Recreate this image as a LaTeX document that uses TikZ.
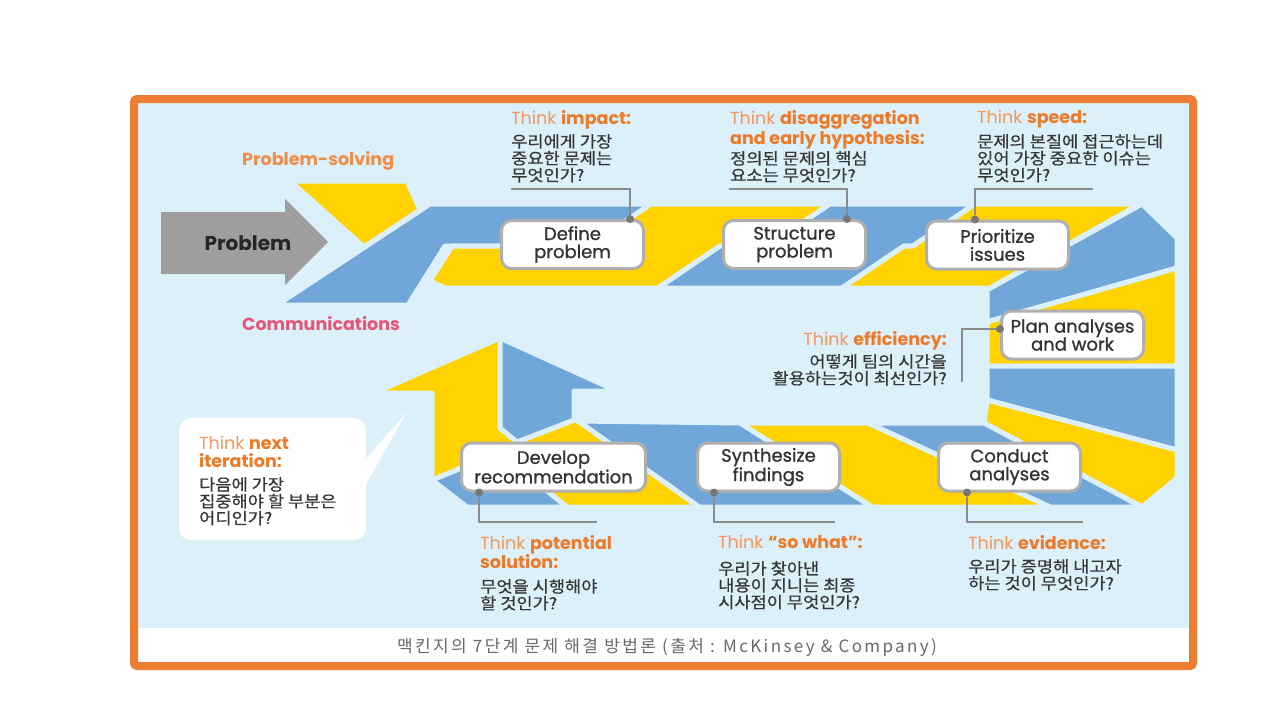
\documentclass[tikz,border=0pt]{standalone}
\usepackage{fontspec}
\setmainfont{Poppins}
\newfontfamily\krfont{Noto Sans CJK KR}[FakeStretch=1.1, FakeBold=0.6]
\newfontfamily\capfont{Noto Sans CJK KR}[LetterSpace=14]
\newfontfamily\boxfont{Poppins}[FakeBold=1]
\usetikzlibrary{positioning}

\definecolor{bgsky}{RGB}{220,240,250}
\definecolor{frameorange}{RGB}{237,125,49}
\definecolor{ribyellow}{RGB}{255,210,0}
\definecolor{ribblue}{RGB}{112,166,216}
\definecolor{arrowgray}{RGB}{158,158,158}
\definecolor{thinklight}{RGB}{246,150,90}
\definecolor{thinkbold}{RGB}{238,122,40}
\definecolor{solvecol}{RGB}{240,140,70}
\definecolor{commcol}{RGB}{232,84,120}
\definecolor{krtext}{RGB}{55,55,55}
\definecolor{leadgray}{RGB}{140,140,140}
\definecolor{boxgray}{RGB}{175,175,175}
\definecolor{captiongray}{RGB}{105,105,105}

\newcommand{\thinkhl}[1]{\textcolor{thinkbold}{\bfseries #1}}

\tikzset{
  ribbon/.style={draw=bgsky, line width=5pt, line join=round},
  stepbox/.style={draw=boxgray, line width=3pt, fill=white, rounded corners=10pt,
    minimum width=142pt, minimum height=48pt, inner sep=0pt, align=center,
    font=\boxfont\fontsize{18}{18}\selectfont, text=black!80},
  thinktitle/.style={anchor=north west, inner sep=0pt, align=left,
    font=\fontsize{17.5}{18}\selectfont, text=thinklight},
  krnote/.style={anchor=north west, inner sep=0pt, align=left,
    font=\krfont\fontsize{16}{16.8}\selectfont, text=krtext},
  flowlabel/.style={anchor=north west, inner sep=0pt,
    font=\bfseries\fontsize{17.5}{20}\selectfont},
  leader/.style={draw=leadgray, line width=1.2pt},
  leaddot/.style={circle, fill=leadgray!85!black, inner sep=0pt, minimum size=8pt}
}

\begin{document}
\begin{tikzpicture}[x=1pt, y=-1pt]
  \useasboundingbox (0,0) rectangle (1280,720);
  \fill[white] (0,0) rectangle (1280,720);

  % frame
  \fill[bgsky] (134,99) rectangle (1193,628);
  \fill[white] (134,628) rectangle (1193,666);
  \draw[frameorange, line width=8pt, rounded corners=3pt] (134,99) rectangle (1193,666);

  % problem arrow
  \fill[arrowgray] (161,212) -- (285,212) -- (285,199) -- (328,242) -- (285,285) -- (285,274) -- (161,274) -- cycle;
  \node[font=\bfseries\fontsize{20}{22}\selectfont, text=black!85] (problem) at (248,243) {Problem};

  % top band
  \filldraw[ribbon, fill=ribyellow] (290,181) -- (407,181) -- (420,210) -- (364,247) -- cycle;
  \filldraw[ribbon, fill=ribblue] (277,305) -- (430,204) -- (651,204) -- (589,246) -- (445,246) -- (408,305) -- cycle;
  \filldraw[ribbon, fill=ribyellow] (430,281) -- (452,246) -- (589,246) -- (651,204) -- (830,204) -- (768,246) -- (720,246) -- (658,288) -- (445,288) -- cycle;
  \filldraw[ribbon, fill=ribblue] (658,288) -- (720,246) -- (768,246) -- (830,204) -- (975,204) -- (913,246) -- (904,246) -- (842,288) -- cycle;
  \filldraw[ribbon, fill=ribyellow] (842,288) -- (904,246) -- (913,246) -- (975,204) -- (1140,204) -- (990,288) -- cycle;

  % right column
  \filldraw[ribbon, fill=ribblue] (987,290) -- (1142,204) -- (1177,238) -- (1177,268) -- (987,322) -- cycle;
  \filldraw[ribbon, fill=ribyellow] (987,322) -- (1177,268) -- (1177,366) -- (987,366) -- cycle;
  \filldraw[ribbon, fill=ribblue] (987,366) -- (1177,366) -- (1177,450) -- (987,400) -- cycle;
  \filldraw[ribbon, fill=ribyellow] (987,400) -- (1177,450) -- (1177,478) -- (1142,507) -- (984,423) -- cycle;

  % bottom band and the two up arrows
  \filldraw[ribbon, fill=ribblue] (868,423) -- (984,423) -- (1142,507) -- (1050,507) -- cycle;
  \filldraw[ribbon, fill=ribyellow] (740,423) -- (868,423) -- (1050,507) -- (872,507) -- cycle;
  \filldraw[ribbon, fill=ribblue] (578,421) -- (740,423) -- (872,507) -- (699,507) -- cycle;
  \filldraw[ribbon, fill=ribblue] (432,480) -- (500,452) -- (567,507) -- (467,507) -- cycle;
  \filldraw[ribbon, fill=ribyellow] (500,338) -- (374,393) -- (432,393) -- (432,480) -- (500,452) -- (567,507) -- (699,507) -- (578,421) -- (574,420) -- (517,442) -- (500,428) -- cycle;
  \filldraw[ribbon, fill=ribblue] (500,338) -- (617,391) -- (574,391) -- (574,420) -- (517,442) -- (500,428) -- cycle;

  % flow labels
  \node[flowlabel, text=solvecol] (solving) at (242,151) {Problem-solving};
  \node[flowlabel, text=commcol] (comm) at (242,316) {Communications};

  % leader ends
  \coordinate (impactLead) at (511,189);
  \coordinate (disaggLead) at (729,189);
  \coordinate (speedLead) at (1093,189);
  \coordinate (effLead) at (962,382);
  \coordinate (potLead) at (597,522);
  \coordinate (soLead) at (835,522);
  \coordinate (evLead) at (1083,522);

  % steps
  \node[stepbox] (define) at (572.5,244.5) {Define\\problem};
  \node[stepbox] (structure) at (794.5,244.5) {Structure\\problem};
  \node[stepbox] (prioritize) at (997.5,245) {Prioritize\\issues};
  \node[stepbox] (plan) at (1072.5,335) {Plan analyses\\and work};
  \node[stepbox] (conduct) at (1009.5,467) {Conduct\\analyses};
  \node[stepbox] (synth) at (768.5,467) {Synthesize\\findings};
  \node[stepbox, minimum width=184pt] (develop) at (553.5,467) {Develop\\recommendation};

  \node[leaddot] (dDefine) at ([xshift=-15pt]define.north east) {};
  \node[leaddot] (dStructure) at ([xshift=-20pt]structure.north east) {};
  \node[leaddot] (dPrioritize) at ([xshift=50pt]prioritize.north west) {};
  \node[leaddot] (dPlan) at ([yshift=6pt]plan.west) {};
  \node[leaddot] (dConduct) at ([xshift=30pt]conduct.south west) {};
  \node[leaddot] (dSynth) at ([xshift=18pt]synth.south west) {};
  \node[leaddot] (dDevelop) at ([xshift=19pt]develop.south west) {};

  \draw[leader] (impactLead) -| (dDefine);
  \draw[leader] (disaggLead) -| (dStructure);
  \draw[leader] (speedLead) -| (dPrioritize);
  \draw[leader] (effLead) |- (dPlan);
  \draw[leader] (dConduct) |- (evLead);
  \draw[leader] (dSynth) |- (soLead);
  \draw[leader] (dDevelop) |- (potLead);

  % notes
  \node[thinktitle] (impactT) at (511,110) {Think \thinkhl{impact:}};
  \node[krnote] (impactK) at (511,134) {우리에게 가장\\중요한 문제는\\무엇인가?};
  \node[thinktitle] (disaggT) at (730,110) {Think \thinkhl{disaggregation}\\\thinkhl{and early hypothesis:}};
  \node[krnote] (disaggK) at (730,151) {정의된 문제의 핵심\\요소는 무엇인가?};
  \node[thinktitle] (speedT) at (977,110) {Think \thinkhl{speed:}};
  \node[krnote] (speedK) at (977,134) {문제의 본질에 접근하는데\\있어 가장 중요한 이슈는\\무엇인가?};
  \node[thinktitle, anchor=north east, align=right] (effT) at (947,331) {Think \thinkhl{efficiency:}};
  \node[krnote, anchor=north east, align=right] (effK) at (947,354) {어떻게 팀의 시간을\\활용하는것이 최선인가?};

  % next iteration callout
  \node[fill=white, rounded corners=12pt, minimum width=187pt, minimum height=122pt] (nextBox) at (272.5,479) {};
  \fill[white] ([xshift=-6pt, yshift=14pt]nextBox.east) -- (407,412) -- ([xshift=-4pt, yshift=-12pt]nextBox.east) -- cycle;
  \node[thinktitle] (nextT) at (199,436) {Think \thinkhl{next}\\\thinkhl{iteration:}};
  \node[krnote] (nextK) at (199,477) {다음에 가장\\집중해야 할 부분은\\어디인가?};

  \node[thinktitle] (potT) at (480,535) {Think \thinkhl{potential}\\\thinkhl{solution:}};
  \node[krnote] (potK) at (480,579) {무엇을 시행해야\\할 것인가?};
  \node[thinktitle] (soT) at (718,535) {Think \thinkhl{“so what”:}};
  \node[krnote] (soK) at (718,561) {우리가 찾아낸\\내용이 지니는 최종\\시사점이 무엇인가?};
  \node[thinktitle] (evT) at (968,535) {Think \thinkhl{evidence:}};
  \node[krnote] (evK) at (968,559) {우리가 증명해 내고자\\하는 것이 무엇인가?};

  % caption
  \node[font=\capfont\fontsize{17}{19}\selectfont, text=captiongray] (caption) at (667,647) {맥킨지의 7단계 문제 해결 방법론 (출처 : McKinsey \& Company)};
\end{tikzpicture}
\end{document}
